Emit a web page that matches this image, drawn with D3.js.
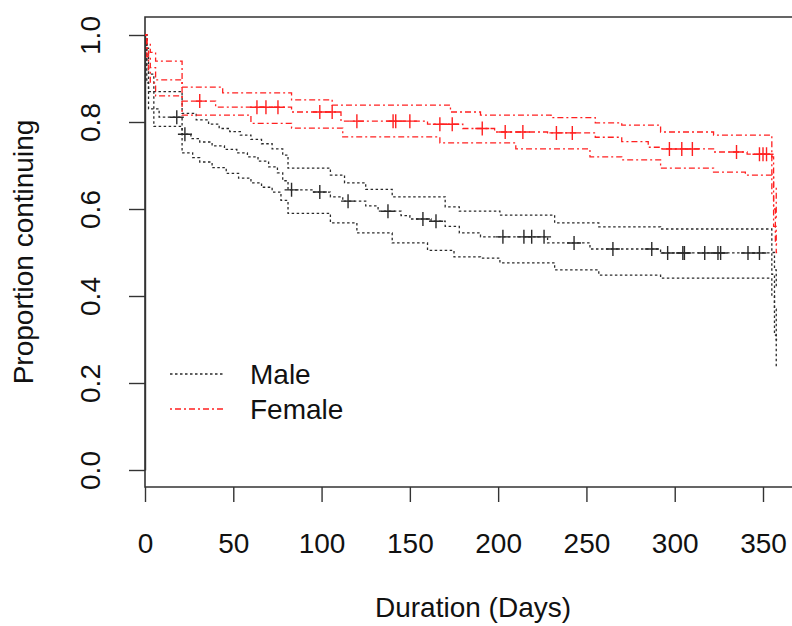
<!DOCTYPE html>
<html>
<head>
<meta charset="utf-8">
<script src="https://cdn.jsdelivr.net/npm/d3@7"></script>
<style>
  html, body { margin: 0; padding: 0; background: #fff; }
  svg { display: block; }
  text { font-family: "Liberation Sans", Arial, Helvetica, sans-serif; }
</style>
</head>
<body>
<svg id="chart" width="792" height="626"></svg>
<script>
// ---------------- DATA ----------------
const xTicks = [0, 50, 100, 150, 200, 250, 300, 350];
const yTicks = [0.0, 0.2, 0.4, 0.6, 0.8, 1.0];
const yTickLabels = ["0.0", "0.2", "0.4", "0.6", "0.8", "1.0"];
const xTitle = "Duration (Days)";
const yTitle = "Proportion continuing";
const legendLabels = ["Male", "Female"];

// Kaplan-Meier steps: [time, proportion]
const maleSurv = [[0,1.0],[1,0.93],[2,0.87],[5,0.83],[8,0.811],[21,0.772],[26,0.762],[31,0.754],[38,0.745],[45,0.737],[52,0.729],[58,0.72],[64,0.71],[70,0.697],[75,0.683],[78,0.665],[81,0.644],[95,0.639],[105,0.628],[112,0.618],[125,0.607],[132,0.595],[145,0.585],[150,0.577],[162,0.572],[170,0.56],[178,0.545],[190,0.536],[228,0.522],[252,0.508],[292,0.499],[355,0.45],[356.5,0.37],[357.5,0.30],[358,0.30]];
const maleUpper = [[0,1.0],[1,0.97],[2,0.91],[5,0.87],[21,0.82],[29,0.805],[36,0.795],[42,0.785],[48,0.778],[54,0.77],[60,0.76],[66,0.75],[72,0.738],[78,0.724],[81,0.694],[105,0.678],[113,0.66],[125,0.645],[140,0.628],[170,0.605],[178,0.595],[201,0.586],[232,0.568],[257,0.559],[292,0.554],[355,0.50],[356.5,0.46],[357.5,0.42],[358,0.42]];
const maleLower = [[0,1.0],[1,0.89],[2,0.83],[5,0.79],[21,0.729],[27,0.718],[31,0.708],[38,0.695],[46,0.682],[53,0.671],[60,0.66],[66,0.65],[72,0.639],[77,0.62],[81,0.59],[105,0.568],[120,0.545],[140,0.522],[160,0.505],[175,0.49],[190,0.487],[201,0.476],[232,0.46],[257,0.448],[292,0.441],[355,0.40],[356.5,0.31],[357.5,0.237],[358,0.237]];
const maleCensor = [18, 22.6, 83, 99, 115, 137.6, 157.4, 164.8, 202.7, 214.6, 219, 226, 243, 265, 287, 296, 304.6, 305.5, 317, 324.5, 326, 341.5, 348];

const femaleSurv = [[0,1.0],[1,0.97],[2,0.95],[3,0.925],[6,0.897],[21,0.848],[40,0.834],[83,0.823],[111,0.802],[160,0.795],[180,0.785],[198,0.777],[228,0.775],[255,0.765],[270,0.755],[285,0.742],[292,0.738],[322,0.731],[341,0.726],[355,0.68],[356,0.60],[357,0.52],[358,0.52]];
const femaleUpper = [[0,1.0],[1,0.98],[3,0.96],[6,0.94],[21,0.88],[44,0.867],[83,0.851],[106,0.839],[173,0.823],[190,0.816],[230,0.81],[255,0.798],[270,0.793],[292,0.777],[322,0.770],[355,0.72],[356,0.65],[357.5,0.58],[358,0.58]];
const femaleLower = [[0,1.0],[1,0.95],[2,0.92],[3,0.89],[6,0.86],[21,0.816],[60,0.797],[83,0.786],[112,0.766],[167,0.752],[210,0.738],[252,0.72],[270,0.713],[292,0.694],[322,0.685],[340,0.678],[355,0.63],[356,0.56],[357.5,0.50],[358,0.50]];
const femaleCensor = [31, 63.4, 68.5, 75.3, 99, 106, 120, 140.5, 142, 150, 167, 174, 191, 204, 214, 233, 242, 297, 304, 310, 335, 348, 350, 352];

// ---------------- LAYOUT ----------------
const svg = d3.select("#chart");
const plot = { left: 145, top: 17, right: 940, bottom: 487 };
const x = d3.scaleLinear().domain([0, 350]).range([145, 763]);
const y = d3.scaleLinear().domain([0, 1]).range([470, 35]);
const fontSize = 28;

const styles = {
  male:   { color: "#2a2a2a", dash: "2.5,2.5" },
  female: { color: "#ff2020", dash: "2,3,6,3" }
};

// frame (box cut by the right window edge)
svg.append("path")
  .attr("d", `M${plot.right},${plot.top}H${plot.left}V${plot.bottom}H${plot.right}`)
  .attr("fill", "none").attr("stroke", "#333").attr("stroke-width", 1.6);

// x axis
const xAxis = svg.append("g")
  .attr("transform", `translate(0,${plot.bottom})`)
  .call(d3.axisBottom(x).tickValues(xTicks).tickSize(15).tickSizeOuter(0).tickPadding(31));
xAxis.select(".domain").remove();
xAxis.selectAll("line").attr("stroke", "#333").attr("stroke-width", 1.4);
xAxis.selectAll("text").attr("font-size", fontSize).attr("fill", "#111")
  .attr("font-family", "Liberation Sans, Arial, sans-serif");

// y axis
const yAxis = svg.append("g")
  .attr("transform", `translate(${plot.left},0)`)
  .call(d3.axisLeft(y).tickValues(yTicks).tickFormat((d, i) => yTickLabels[i]).tickSize(16).tickSizeOuter(0));
yAxis.select(".domain").attr("stroke", "#333").attr("stroke-width", 1.4);
yAxis.selectAll("line").attr("stroke", "#333").attr("stroke-width", 1.4);
yAxis.selectAll("text")
  .attr("x", null).attr("y", null).attr("dy", null)
  .attr("transform", "translate(-45,0) rotate(-90)")
  .attr("text-anchor", "middle")
  .attr("font-size", fontSize).attr("fill", "#111")
  .attr("font-family", "Liberation Sans, Arial, sans-serif");

// titles
svg.append("text")
  .attr("x", 473).attr("y", 617)
  .attr("text-anchor", "middle").attr("font-size", fontSize).attr("fill", "#111")
  .text(xTitle);
svg.append("text")
  .attr("transform", `translate(33,${(plot.top + plot.bottom) / 2}) rotate(-90)`)
  .attr("text-anchor", "middle").attr("font-size", fontSize).attr("fill", "#111")
  .text(yTitle);

// curves
const line = d3.line().x(d => x(d[0])).y(d => y(d[1])).curve(d3.curveStepAfter);
svg.append("clipPath").attr("id", "plotclip")
  .append("rect").attr("x", plot.left).attr("y", plot.top)
  .attr("width", plot.right - plot.left).attr("height", plot.bottom - plot.top);
const gCurves = svg.append("g").attr("clip-path", "url(#plotclip)");

function stepValue(steps, t) {
  let v = steps[0][1];
  for (const s of steps) { if (s[0] <= t) v = s[1]; else break; }
  return v;
}

function drawGroup(key, surv, upper, lower, censor) {
  const st = styles[key];
  [lower, upper, surv].forEach(data => {
    gCurves.append("path").datum(data)
      .attr("d", line)
      .attr("fill", "none")
      .attr("stroke", st.color)
      .attr("stroke-width", 1.3)
      .attr("stroke-dasharray", st.dash);
  });
  const arm = 7;
  gCurves.append("g").selectAll("path").data(censor).join("path")
    .attr("d", t => {
      const cx = x(t), cy = y(stepValue(surv, t));
      return `M${cx - arm},${cy}H${cx + arm}M${cx},${cy - arm}V${cy + arm}`;
    })
    .attr("fill", "none").attr("stroke", st.color).attr("stroke-width", 1.4);
}

drawGroup("male", maleSurv, maleUpper, maleLower, maleCensor);
drawGroup("female", femaleSurv, femaleUpper, femaleLower, femaleCensor);

// legend
const legend = svg.append("g");
[["male", 374], ["female", 409]].forEach(([key, ly], i) => {
  legend.append("line")
    .attr("x1", 170).attr("x2", 223).attr("y1", ly).attr("y2", ly)
    .attr("stroke", styles[key].color).attr("stroke-width", 1.3)
    .attr("stroke-dasharray", styles[key].dash);
  legend.append("text")
    .attr("x", 250).attr("y", ly + 10)
    .attr("font-size", fontSize).attr("fill", "#111")
    .text(legendLabels[i]);
});
</script>
</body>
</html>
